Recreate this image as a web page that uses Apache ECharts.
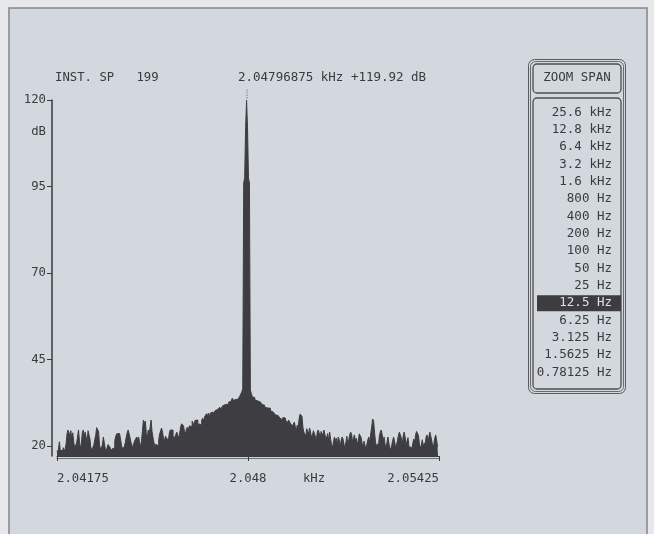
<!DOCTYPE html>
<html>
<head>
<meta charset="utf-8">
<script src="https://cdn.jsdelivr.net/npm/echarts@6/dist/echarts.min.js"></script>
<style>
  html, body { margin: 0; padding: 0; background: #e7e8ea; }
  #chart { width: 654px; height: 534px; }
</style>
</head>
<body>
<div id="chart"></div>
<script>
// Spectrum: 400 lines across a 12.5 Hz zoom span
const startKHz = 2.04175;
const binKHz = 0.00003125;
const spectrumNo = 199;
const cursorBin = 199;

// Level of each line, dB
const levelsDb = [
  18.3,18.5,19.0,21.2,18.6,18.2,18.8,19.5,18.4,19.2,20.5,23.5,24.6,24.2,23.0,24.4,22.0,23.8,21.2,19.5,
  19.0,20.8,22.6,24.6,21.5,19.2,20.6,23.8,24.6,22.8,24.0,23.5,21.0,24.4,23.2,22.0,19.4,18.8,19.6,20.2,
  21.8,23.0,25.3,25.0,24.2,20.5,19.0,18.7,20.2,22.6,21.0,19.3,18.6,19.0,20.4,20.9,19.6,18.5,19.1,18.8,
  19.5,21.5,22.8,23.5,24.0,23.6,24.0,22.0,20.3,19.2,18.9,19.8,21.0,22.5,23.8,24.6,24.4,22.4,21.0,20.2,
  19.5,20.8,21.6,22.0,22.6,21.8,22.6,21.0,19.8,21.5,24.5,27.5,26.4,27.2,23.6,22.0,24.6,23.5,25.4,27.5,
  24.2,22.5,21.0,19.8,20.5,20.9,20.0,21.8,23.5,24.0,25.2,24.0,22.2,21.5,22.8,23.2,22.0,21.2,23.5,24.6,
  24.4,24.6,23.0,22.0,21.8,23.4,24.0,23.0,22.4,23.8,25.6,26.4,26.9,25.8,24.2,23.6,24.8,25.4,24.4,25.8,
  26.2,25.6,27.2,27.5,26.0,27.4,27.0,27.5,25.6,26.4,26.9,26.0,27.4,28.0,27.2,28.4,28.0,29.3,28.6,29.5,
  28.4,29.5,29.0,29.8,28.9,29.6,30.2,29.8,30.6,30.2,30.8,31.2,30.6,31.0,31.6,31.2,32.0,31.8,32.4,32.0,
  32.6,32.4,33.0,32.8,33.8,33.2,33.6,33.4,33.9,33.5,34.0,34.2,34.6,35.0,35.6,36.5,96.0,97.5,112.0,119.92,
  112.0,97.5,96.0,36.2,35.2,34.2,33.8,34.0,33.2,33.6,33.0,33.4,33.3,32.6,32.8,32.0,32.2,31.8,31.2,31.5,
  31.0,30.6,31.0,30.9,30.2,30.4,29.8,30.0,29.5,29.0,29.2,28.8,28.6,28.4,28.0,28.5,27.6,28.2,28.0,28.1,
  27.4,27.8,26.8,27.5,27.2,26.5,27.0,25.8,26.2,26.9,25.6,24.2,26.0,25.0,27.8,29.2,29.5,28.6,25.4,24.0,
  23.6,22.8,25.0,24.6,23.5,25.2,24.0,22.5,23.2,24.4,24.6,22.8,21.5,24.0,24.6,23.8,22.0,24.2,24.6,23.0,
  24.6,23.4,21.8,22.6,23.6,21.4,24.0,22.0,20.4,19.6,21.2,22.6,21.6,22.2,20.2,22.6,21.8,19.8,21.5,22.6,
  22.0,20.5,19.4,21.0,22.8,20.6,21.8,23.2,24.0,23.4,21.0,22.4,23.2,21.5,22.2,20.4,21.6,23.5,24.0,22.4,
  20.8,19.6,21.4,20.2,19.0,20.5,21.8,22.6,21.0,23.5,25.5,27.8,27.2,24.0,21.2,19.8,20.6,19.5,22.8,24.0,
  24.6,23.2,21.4,22.6,20.5,19.4,21.0,22.6,20.8,19.5,18.9,20.2,21.6,22.6,21.2,19.6,20.4,21.5,23.0,24.0,
  23.2,22.4,20.6,22.8,24.0,22.6,20.2,21.4,22.4,20.0,19.2,19.8,18.9,20.6,22.0,21.0,23.2,24.2,24.6,23.0,
  20.6,19.4,20.2,21.8,19.6,20.9,20.2,22.6,23.2,21.0,22.8,24.0,23.6,21.4,19.6,20.4,22.2,23.2,21.7,19.8
];

// Axis ticks
const xTickValues = [2.04175, 2.048, 2.05425];
const xTickLabels = ['2.04175', '2.048', '2.05425'];
const yTickValues = [20, 45, 70, 95, 120];
const yMin = 17.1, yMax = 120;

// Zoom span menu
const spanOptions = ['25.6 kHz', '12.8 kHz', '6.4 kHz', '3.2 kHz', '1.6 kHz', '800 Hz', '400 Hz',
  '200 Hz', '100 Hz', '50 Hz', '25 Hz', '12.5 Hz', '6.25 Hz', '3.125 Hz', '1.5625 Hz', '0.78125 Hz'];
const selectedSpan = '12.5 Hz';

const MONO = '"DejaVu Sans Mono", "Liberation Mono", monospace';
const INK = '#3b3a3d';
const FILL = '#3e3d41';

const points = levelsDb.map((v, i) => [startKHz + i * binKHz, v]);
const endKHz = startKHz + 400 * binKHz;

const chart = echarts.init(document.getElementById('chart'), null, { renderer: 'canvas' });

chart.setOption({
  backgroundColor: '#e7e8ea',
  animation: false,
  grid: { left: 57, right: 215, top: 100, bottom: 78, containLabel: false },
  xAxis: [{
    type: 'value', min: startKHz, max: endKHz,
    axisLine: { show: true, lineStyle: { color: '#3a393c', width: 1 } },
    axisTick: { show: true, customValues: xTickValues, length: 5, lineStyle: { color: '#3a393c' } },
    axisLabel: {
      customValues: xTickValues,
      formatter: v => { const k = xTickValues.indexOf(v); return k >= 0 ? xTickLabels[k] : ''; },
      margin: 17, fontFamily: MONO, fontSize: 12.3, color: INK,
      alignMinLabel: 'left', alignMaxLabel: 'right'
    },
    splitLine: { show: false }
  }, {
    type: 'value', min: startKHz, max: endKHz, position: 'bottom', offset: 2,
    axisLine: { show: true, lineStyle: { color: '#6e6d72', width: 1 } },
    axisTick: { show: false }, axisLabel: { show: false }, splitLine: { show: false }
  }],
  yAxis: {
    type: 'value', min: yMin, max: yMax, offset: 5,
    axisLine: { show: true, lineStyle: { color: '#3a393c', width: 1.5 } },
    axisTick: { show: true, customValues: yTickValues, length: 5, lineStyle: { color: '#3a393c' } },
    axisLabel: { customValues: yTickValues, margin: 6, fontFamily: MONO, fontSize: 12.3, color: INK },
    splitLine: { show: false }
  },
  series: [{
    type: 'line', step: 'middle', data: points, symbol: 'none', silent: true,
    lineStyle: { color: FILL, width: 1 },
    areaStyle: { color: FILL, opacity: 1, origin: 'start' }
  }]
});

// Readout text and cursor tick above the peak, placed through the axis scales
const cursorKHz = startKHz + cursorBin * binKHz;
const cursorDb = levelsDb[cursorBin];
const peakPx = chart.convertToPixel({ gridIndex: 0 }, [cursorKHz, cursorDb]);

const txt = (text, x, y, align, extra) => Object.assign({
  type: 'text', x, y,
  style: Object.assign({ text, fill: INK, font: '12.3px ' + MONO, align: align || 'left', verticalAlign: 'middle' }, extra || {})
});

const graphics = [
  { type: 'rect', z: -10, shape: { x: 9, y: 8, width: 638, height: 540 },
    style: { fill: '#d3d8de', stroke: '#86848a', lineWidth: 1.5 } },
  txt('INST. SP   ' + spectrumNo, 55, 78),
  txt(cursorKHz.toFixed(8) + ' kHz +' + cursorDb.toFixed(2) + ' dB', 238, 78, 'left', { font: '12.5px ' + MONO }),
  txt('dB', 46, 132, 'right'),
  txt('kHz', 314, 479, 'center'),
  { type: 'line', shape: { x1: peakPx[0], y1: peakPx[1] - 2, x2: peakPx[0], y2: peakPx[1] - 12 },
    style: { stroke: '#5a595d', lineWidth: 1, lineDash: [1, 1.5] } },
  // zoom span panel
  { type: 'rect', shape: { x: 528.5, y: 59.5, width: 97, height: 334, r: 6 },
    style: { fill: 'none', stroke: '#5a595d', lineWidth: 1 } },
  { type: 'rect', shape: { x: 530.5, y: 61.5, width: 93, height: 330, r: 5 },
    style: { fill: 'none', stroke: '#6a696e', lineWidth: 1 } },
  { type: 'rect', shape: { x: 533, y: 64, width: 88, height: 29, r: 4 },
    style: { fill: 'none', stroke: '#4e4d51', lineWidth: 1.3 } },
  { type: 'rect', shape: { x: 533, y: 98, width: 88, height: 291, r: 4 },
    style: { fill: 'none', stroke: '#4e4d51', lineWidth: 1.3 } },
  txt('ZOOM SPAN', 577, 77.5, 'center', { font: '12.5px ' + MONO })
];

spanOptions.forEach((s, k) => {
  const cy = 112.3 + k * 17.35;
  if (s === selectedSpan) {
    graphics.push({ type: 'rect', shape: { x: 537, y: cy - 8, width: 84, height: 16 }, style: { fill: '#3d3c40' } });
    graphics.push(txt(s, 612, cy, 'right', { fill: '#dde1e6', font: '12.5px ' + MONO }));
  } else {
    graphics.push(txt(s, 612, cy, 'right', { font: '12.5px ' + MONO }));
  }
});

chart.setOption({ graphic: { elements: graphics } });
</script>
</body>
</html>
